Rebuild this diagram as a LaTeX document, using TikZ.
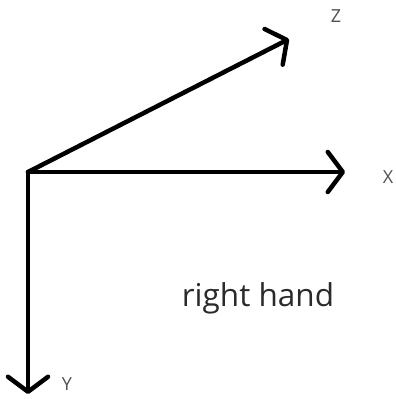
\documentclass[tikz,border=0pt]{standalone}
\usepackage{fontspec}
\setmainfont{Open Sans}
\usetikzlibrary{arrows.meta}
\definecolor{txt}{HTML}{2A2A2A}
\definecolor{lbl}{HTML}{505050}
\tikzset{
  axis/.style={line width=4.5pt, line cap=round, line join=round,
    -{Straight Barb[length=15pt, width=40pt, line width=4.5pt, round]}},
  axlbl/.style={text=lbl, font=\fontsize{18}{20}\selectfont, inner sep=0pt},
}
\begin{document}
\begin{tikzpicture}[x=1pt, y=-1pt]
  \useasboundingbox (0,0) rectangle (396,399);
  \coordinate (o) at (28,172);
  \coordinate (x) at (345,172);
  \coordinate (y) at (28,394);
  \coordinate (z) at (289,39);
  \draw[axis] (o) -- (x);
  \draw[axis] (o) -- (y);
  \draw[axis] (o) -- (z);
  \node[axlbl] (lz) at (336,16) {Z};
  \node[axlbl] (lx) at (388,177) {X};
  \node[axlbl] (ly) at (67,384) {Y};
  \node[text=txt, font=\fontsize{31.5}{34}\selectfont, inner sep=0pt] (rh) at (258,298) {right hand};
\end{tikzpicture}
\end{document}
